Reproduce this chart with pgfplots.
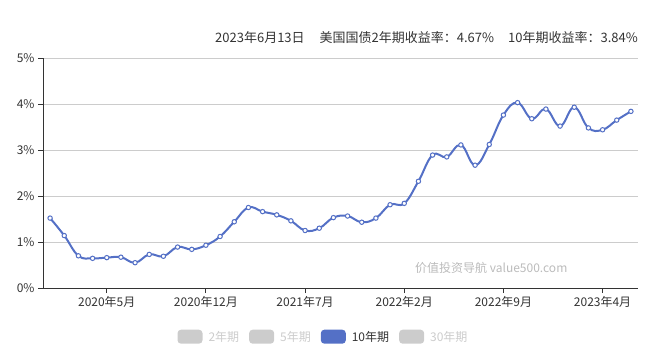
\documentclass[border=0pt]{standalone}
\usepackage{fontspec}
\setmainfont{Noto Sans CJK SC}
\usepackage{pgfplots}
\pgfplotsset{compat=1.18}
\definecolor{serie}{HTML}{5470C6}
\definecolor{gridc}{HTML}{CCCCCC}
\definecolor{axisc}{HTML}{333333}
\definecolor{inactive}{HTML}{CCCCCC}
\definecolor{txt}{HTML}{333333}
\definecolor{wm}{HTML}{BBBBBB}
\pgfplotsset{boxleg/.style={legend image code/.code={\fill[rounded corners=3.5pt] (0pt,-7pt) rectangle (25pt,7pt);}}}
\begin{document}
\begin{tikzpicture}
\useasboundingbox (0pt,0pt) rectangle (669pt,354pt);
\begin{axis}[
  at={(43pt,66pt)}, anchor=south west,
  scale only axis, width=595pt, height=230pt,
  xmin=-0.5, xmax=41.5, ymin=0, ymax=5,
  xtick={4,11,18,25,32,39},
  xticklabels={2020年5月,2020年12月,2021年7月,2022年2月,2022年9月,2023年4月},
  ytick={0,1,2,3,4,5},
  yticklabels={0\%,1\%,2\%,3\%,4\%,5\%},
  axis x line*=bottom, axis y line*=left,
  axis line style={color=axisc, line width=1pt},
  ymajorgrids, grid style={color=gridc, line width=0.8pt},
  tick align=outside, major tick length=5pt,
  tick style={color=axisc, line width=1pt},
  tick label style={font=\fontsize{12}{14}\selectfont, color=txt},
  legend columns=4,
  legend style={at={(0.4714,-0.2117)}, anchor=center, draw=none, fill=none,
    font=\fontsize{12}{14}\selectfont,
    /tikz/every odd column/.append style={column sep=4pt},
    /tikz/every even column/.append style={column sep=8pt}},
]
\addlegendimage{boxleg, draw=none, fill=inactive}
\addlegendentry{\textcolor{inactive}{2年期}}
\addlegendimage{boxleg, draw=none, fill=inactive}
\addlegendentry{\textcolor{inactive}{5年期}}
\addlegendimage{boxleg, draw=none, fill=serie}
\addlegendentry{\textcolor{txt}{10年期}}
\addlegendimage{boxleg, draw=none, fill=inactive}
\addlegendentry{\textcolor{inactive}{30年期}}
\addplot[forget plot, color=serie, line width=2pt, smooth, tension=0.7,
  mark=*, mark size=2.2pt, mark options={fill=white, draw=serie, line width=1pt}]
  table {
x y
0 1.52
1 1.14
2 0.70
3 0.645
4 0.66
5 0.67
6 0.55
7 0.73
8 0.69
9 0.89
10 0.84
11 0.93
12 1.12
13 1.44
14 1.75
15 1.66
16 1.59
17 1.46
18 1.25
19 1.30
20 1.53
21 1.565
22 1.43
23 1.52
24 1.81
25 1.84
26 2.32
27 2.89
28 2.85
29 3.11
30 2.67
31 3.12
32 3.76
33 4.03
34 3.68
35 3.89
36 3.52
37 3.93
38 3.48
39 3.44
40 3.65
41 3.84
};
\end{axis}
\node[anchor=east, inner sep=0pt, font=\fontsize{13}{15}\selectfont, text=txt] at (638pt,316.5pt)
  {2023年6月13日\hspace{15pt}美国国债2年期收益率：4.67\%\hspace{14pt}10年期收益率：3.84\%};
\node[anchor=west, inner sep=0pt, font=\fontsize{12}{14}\selectfont, text=wm] at (415pt,86pt)
  {价值投资导航 value500.com};
\end{tikzpicture}
\end{document}
